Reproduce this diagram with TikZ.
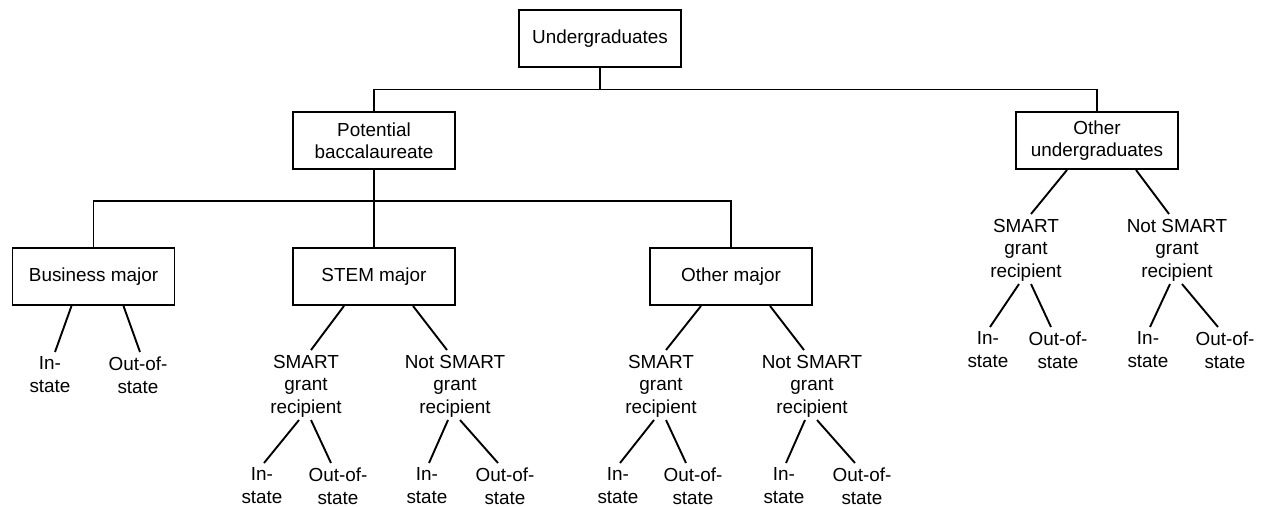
\documentclass[tikz,border=0pt]{standalone}
\usepackage{fontspec}
\setmainfont{Liberation Sans}
\usetikzlibrary{calc}

\begin{document}
\begin{tikzpicture}[x=1pt,y=-1pt,line width=1.9pt,
  every node/.style={font=\fontsize{18.9}{22.5}\selectfont},
  box/.style={draw,minimum width=162pt,minimum height=57pt,align=center,inner sep=2pt},
  txt/.style={align=center,inner sep=0pt,anchor=north}]
\useasboundingbox (0,0) rectangle (1265,506);

% boxes
\node[box] (root) at (600,38.5) {Undergraduates};
\node[box] (pot) at (374,140.5) {Potential\\baccalaureate};
\node[box] (othu) at (1097,140.5) {Other\\undergraduates};
\node[box] (biz) at (93.5,276.5) {Business major};
\node[box] (stem) at (374,276.5) {STEM major};
\node[box] (othm) at (731,276.5) {Other major};

% grant groups
\node[txt] (ssm) at (306,354) {SMART\\grant\\recipient};
\node[txt] (snot) at (455,354) {Not SMART\\grant\\recipient};
\node[txt] (osm) at (661,354) {SMART\\grant\\recipient};
\node[txt] (onot) at (812,354) {Not SMART\\grant\\recipient};
\node[txt] (rsm) at (1026,218) {SMART\\grant\\recipient};
\node[txt] (rnot) at (1177,218) {Not SMART\\grant\\recipient};

% residency
\node[txt] (bin) at (50,356) {In-\\state};
\node[txt] (bout) at (138,356) {Out-of-\\state};
\node[txt] (ssmin) at (262,467) {In-\\state};
\node[txt] (ssmout) at (338,467) {Out-of-\\state};
\node[txt] (snotin) at (427,467) {In-\\state};
\node[txt] (snotout) at (505,467) {Out-of-\\state};
\node[txt] (osmin) at (618,467) {In-\\state};
\node[txt] (osmout) at (693,467) {Out-of-\\state};
\node[txt] (onotin) at (784,467) {In-\\state};
\node[txt] (onotout) at (862,467) {Out-of-\\state};
\node[txt] (rsmin) at (988,331) {In-\\state};
\node[txt] (rsmout) at (1058,331) {Out-of-\\state};
\node[txt] (rnotin) at (1148,331) {In-\\state};
\node[txt] (rnotout) at (1225,331) {Out-of-\\state};

% elbow connectors
\coordinate (rj) at ($(root.south)!.5!(root.south|-pot.north)$);
\coordinate (pj) at ($(pot.south)!.4!(pot.south|-stem.north)$);
\draw (root.south) -- (rj);
\draw (pot.north) |- (rj) -| (othu.north);
\draw (pot.south) -- (pj) -- (stem.north);
\draw (biz.north) |- (pj) -| (othm.north);

% box to children
\draw ([xshift=-22pt]biz.south) -- ([shift={(5pt,4pt)}]bin.north);
\draw ([xshift=30pt]biz.south) -- ([shift={(2pt,4pt)}]bout.north);
\draw ([xshift=-30pt]stem.south) -- ([shift={(5pt,4pt)}]ssm.north);
\draw ([xshift=39pt]stem.south) -- ([shift={(-8pt,4pt)}]snot.north);
\draw ([xshift=-30pt]othm.south) -- ([shift={(5pt,4pt)}]osm.north);
\draw ([xshift=39pt]othm.south) -- ([shift={(-8pt,4pt)}]onot.north);
\draw ([xshift=-30pt]othu.south) -- ([shift={(5pt,4pt)}]rsm.north);
\draw ([xshift=39pt]othu.south) -- ([shift={(-8pt,4pt)}]rnot.north);

% grant group to residency
\draw ([shift={(-7pt,-2pt)}]ssm.south) -- ([shift={(2pt,4pt)}]ssmin.north);
\draw ([shift={(5pt,-2pt)}]ssm.south) -- ([shift={(-7pt,4pt)}]ssmout.north);
\draw ([shift={(-7pt,-2pt)}]snot.south) -- ([shift={(2pt,4pt)}]snotin.north);
\draw ([shift={(5pt,-2pt)}]snot.south) -- ([shift={(-7pt,4pt)}]snotout.north);
\draw ([shift={(-7pt,-2pt)}]osm.south) -- ([shift={(2pt,4pt)}]osmin.north);
\draw ([shift={(5pt,-2pt)}]osm.south) -- ([shift={(-7pt,4pt)}]osmout.north);
\draw ([shift={(-7pt,-2pt)}]onot.south) -- ([shift={(2pt,4pt)}]onotin.north);
\draw ([shift={(5pt,-2pt)}]onot.south) -- ([shift={(-7pt,4pt)}]onotout.north);
\draw ([shift={(-7pt,-2pt)}]rsm.south) -- ([shift={(2pt,4pt)}]rsmin.north);
\draw ([shift={(5pt,-2pt)}]rsm.south) -- ([shift={(-7pt,4pt)}]rsmout.north);
\draw ([shift={(-7pt,-2pt)}]rnot.south) -- ([shift={(2pt,4pt)}]rnotin.north);
\draw ([shift={(5pt,-2pt)}]rnot.south) -- ([shift={(-7pt,4pt)}]rnotout.north);
\end{tikzpicture}
\end{document}
